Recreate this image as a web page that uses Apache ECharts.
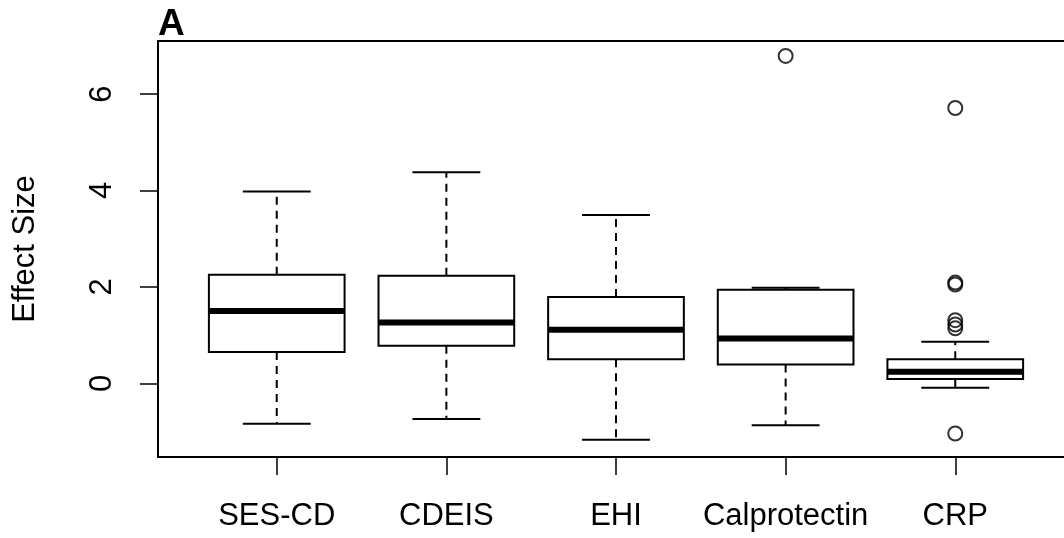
<!DOCTYPE html>
<html>
<head>
<meta charset="utf-8">
<title>Effect Size</title>
<script src="https://cdn.jsdelivr.net/npm/echarts@6/dist/echarts.min.js"></script>
<style>
  html, body { margin: 0; padding: 0; background: #ffffff; }
  #chart { width: 1064px; height: 538px; }
</style>
</head>
<body>
<div id="chart"></div>
<script>
// Box summaries per outcome measure
const categories = ['SES-CD', 'CDEIS', 'EHI', 'Calprotectin', 'CRP'];
const whiskerLow  = [-0.84, -0.74, -1.17, -0.87, -0.09];
const quartile1   = [0.65, 0.78, 0.50, 0.39, 0.09];
const median      = [1.50, 1.26, 1.11, 0.93, 0.24];
const quartile3   = [2.25, 2.23, 1.79, 1.94, 0.50];
const whiskerHigh = [3.98, 4.38, 3.49, 1.98, 0.86];

// Points beyond the whiskers
const outlierCategory = ['Calprotectin', 'CRP', 'CRP', 'CRP', 'CRP', 'CRP', 'CRP', 'CRP'];
const outlierValue    = [6.79, 5.71, 2.05, 2.09, 1.31, 1.22, 1.14, -1.04];

// Axis ticks
const yTicks = [0, 2, 4, 6];
const xTicks = categories.map((_, i) => i + 1);

const BOX_WIDTH = 0.8;
const CAP_WIDTH = 0.4;
const FONT = '"Liberation Sans", Arial, sans-serif';

const boxData = categories.map((c, i) => [i + 1, whiskerLow[i], quartile1[i], median[i], quartile3[i], whiskerHigh[i]]);
const outlierData = outlierCategory.map((c, i) => [categories.indexOf(c) + 1, outlierValue[i]]);

function renderBox(params, api) {
  const x = api.value(0);
  const yLo = api.coord([x, api.value(1)])[1];
  const yQ1 = api.coord([x, api.value(2)])[1];
  const yMed = api.coord([x, api.value(3)])[1];
  const yQ3 = api.coord([x, api.value(4)])[1];
  const yHi = api.coord([x, api.value(5)])[1];
  const cx = api.coord([x, 0])[0];
  const bw = api.size([BOX_WIDTH, 0])[0];
  const cw = api.size([CAP_WIDTH, 0])[0];
  const solid = { stroke: '#000', lineWidth: 2, fill: null };
  const dashed = { stroke: '#000', lineWidth: 2, lineDash: [8, 6], fill: null };
  return {
    type: 'group',
    children: [
      { type: 'line', shape: { x1: cx, y1: yQ3, x2: cx, y2: yHi }, style: dashed },
      { type: 'line', shape: { x1: cx, y1: yQ1, x2: cx, y2: yLo }, style: dashed },
      { type: 'line', shape: { x1: cx - cw / 2, y1: yHi, x2: cx + cw / 2, y2: yHi }, style: solid },
      { type: 'line', shape: { x1: cx - cw / 2, y1: yLo, x2: cx + cw / 2, y2: yLo }, style: solid },
      { type: 'rect', shape: { x: cx - bw / 2, y: yQ3, width: bw, height: yQ1 - yQ3 },
        style: { stroke: '#000', lineWidth: 2, fill: '#fff' } },
      { type: 'line', shape: { x1: cx - bw / 2, y1: yMed, x2: cx + bw / 2, y2: yMed },
        style: { stroke: '#000', lineWidth: 6 } }
    ]
  };
}

const chart = echarts.init(document.getElementById('chart'), null, { renderer: 'canvas' });
chart.setOption({
  animation: false,
  backgroundColor: '#ffffff',
  title: {
    text: 'A',
    left: 158,
    top: 6,
    padding: 0,
    textStyle: { fontFamily: FONT, fontSize: 37, fontWeight: 'bold', color: '#000' }
  },
  grid: {
    left: 158, top: 41, height: 416, width: 916,
    outerBoundsMode: 'none',
    containLabel: false,
    show: true, borderColor: '#000', borderWidth: 2, backgroundColor: 'transparent'
  },
  xAxis: {
    type: 'value',
    min: 0.3, max: 5.7,
    splitLine: { show: false },
    axisLine: { show: true, onZero: false, lineStyle: { color: '#000', width: 2 } },
    axisTick: { show: true, length: 18, customValues: xTicks, lineStyle: { color: '#000', width: 1.5 } },
    axisLabel: {
      customValues: xTicks,
      margin: 44,
      formatter: v => categories[Math.round(v) - 1] || '',
      fontFamily: FONT, fontSize: 31, color: '#000'
    }
  },
  yAxis: {
    type: 'value',
    min: -1.528, max: 7.1,
    name: 'Effect Size',
    nameLocation: 'middle',
    nameGap: 117,
    nameTextStyle: { fontFamily: FONT, fontSize: 31, color: '#000' },
    splitLine: { show: false },
    axisLine: { show: true, onZero: false, lineStyle: { color: '#000', width: 2 } },
    axisTick: { show: true, length: 18, customValues: yTicks, lineStyle: { color: '#000', width: 1.5 } },
    axisLabel: {
      customValues: yTicks,
      rotate: 90,
      margin: 40,
      fontFamily: FONT, fontSize: 31, color: '#000'
    }
  },
  series: [
    {
      type: 'custom',
      renderItem: renderBox,
      data: boxData,
      encode: { x: 0, y: [1, 2, 3, 4, 5] },
      z: 2
    },
    {
      type: 'scatter',
      data: outlierData,
      symbol: 'circle',
      symbolSize: 14,
      itemStyle: { color: 'transparent', borderColor: '#000', borderWidth: 2 },
      z: 3
    }
  ]
});
</script>
</body>
</html>
